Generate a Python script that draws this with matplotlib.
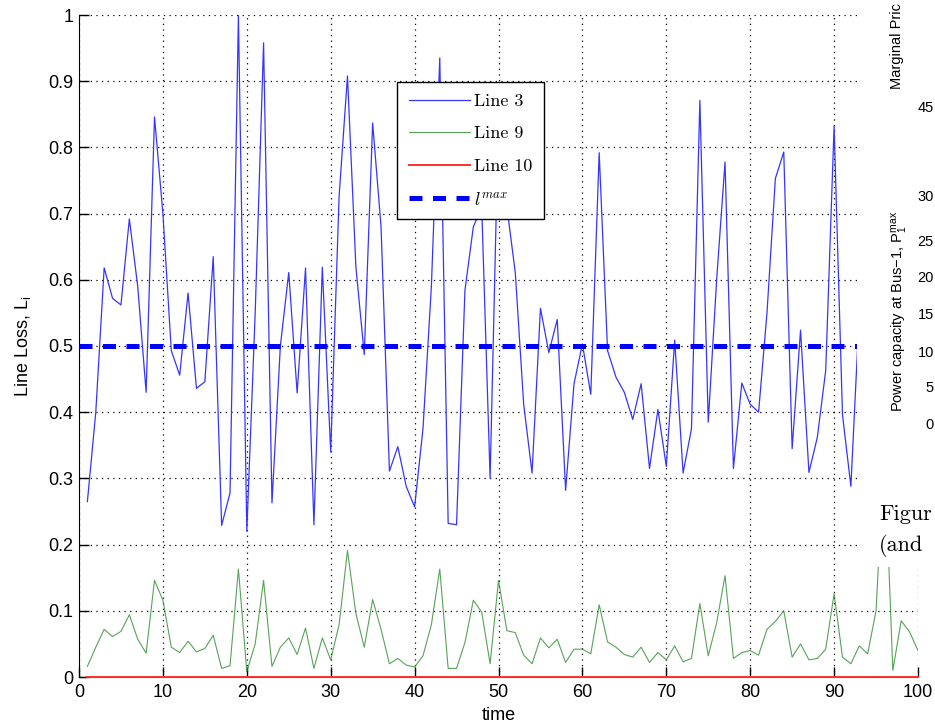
import matplotlib
matplotlib.use('Agg')
import matplotlib.pyplot as plt
import numpy as np
from matplotlib.patches import Rectangle

plt.rcParams['font.family'] = ['Liberation Sans', 'DejaVu Sans']
plt.rcParams['mathtext.fontset'] = 'custom'
plt.rcParams['mathtext.rm'] = 'Liberation Sans'
plt.rcParams['mathtext.it'] = 'cmmi10'

# ---- data ----
time = np.arange(1, 101)

line3 = [0.265, 0.40, 0.618, 0.572, 0.562, 0.692, 0.59, 0.43, 0.846, 0.70,
         0.493, 0.456, 0.58, 0.436, 0.446, 0.635, 0.229, 0.278, 1.0, 0.22,
         0.55, 0.958, 0.263, 0.50, 0.611, 0.429, 0.618, 0.23, 0.619, 0.34,
         0.726, 0.908, 0.62, 0.487, 0.837, 0.68, 0.311, 0.348, 0.288, 0.257,
         0.375, 0.59, 0.935, 0.232, 0.23, 0.584, 0.68, 0.71, 0.30, 0.85,
         0.71, 0.611, 0.412, 0.308, 0.557, 0.49, 0.54, 0.282, 0.443, 0.503,
         0.427, 0.792, 0.493, 0.453, 0.43, 0.389, 0.443, 0.315, 0.404, 0.318,
         0.509, 0.308, 0.375, 0.871, 0.385, 0.60, 0.778, 0.315, 0.444, 0.412,
         0.40, 0.55, 0.753, 0.793, 0.345, 0.524, 0.309, 0.362, 0.463, 0.832,
         0.396, 0.288, 0.55, 0.40, 0.62, 0.35, 0.58, 0.45, 0.70, 0.38]

line9 = [0.016, 0.045, 0.072, 0.061, 0.069, 0.094, 0.057, 0.036, 0.146, 0.116,
         0.045, 0.037, 0.054, 0.038, 0.043, 0.063, 0.013, 0.017, 0.163, 0.008,
         0.05, 0.146, 0.016, 0.045, 0.059, 0.034, 0.074, 0.013, 0.059, 0.026,
         0.079, 0.191, 0.096, 0.045, 0.117, 0.072, 0.02, 0.028, 0.018, 0.015,
         0.032, 0.079, 0.163, 0.013, 0.013, 0.052, 0.116, 0.098, 0.02, 0.146,
         0.07, 0.067, 0.033, 0.02, 0.059, 0.044, 0.057, 0.022, 0.042, 0.042,
         0.035, 0.109, 0.053, 0.045, 0.034, 0.03, 0.045, 0.022, 0.037, 0.026,
         0.047, 0.023, 0.028, 0.111, 0.032, 0.082, 0.153, 0.028, 0.037, 0.04,
         0.033, 0.072, 0.084, 0.10, 0.03, 0.05, 0.026, 0.028, 0.042, 0.126,
         0.03, 0.02, 0.047, 0.035, 0.10, 0.345, 0.01, 0.085, 0.068, 0.04]

line10 = [0.0] * 100
lmax = 0.5

xticks = [0, 10, 20, 30, 40, 50, 60, 70, 80, 90, 100]
yticks = [0, 0.1, 0.2, 0.3, 0.4, 0.5, 0.6, 0.7, 0.8, 0.9, 1]
yticklabels = ['0', '0.1', '0.2', '0.3', '0.4', '0.5', '0.6', '0.7', '0.8', '0.9', '1']

# pieces of the neighbouring figure that overlap the screenshot
side_ticks = ['45', '30', '25', '20', '15', '10', '5', '0']
side_tick_y = [108, 197, 242, 278, 315, 353, 388, 425]

fig = plt.figure(figsize=(9.35, 7.28), dpi=100)
ax = fig.add_axes([79/935, 1 - 677/728, 839/935, 662/728])

h3, = ax.plot(time, line3, color='#3535ff', lw=0.9, label='Line 3')
h9, = ax.plot(time, line9, color='#2e8b2e', lw=0.8, alpha=0.8, label='Line 9')
h10, = ax.plot(time, line10, color='#ff3030', lw=1.4, label='Line 10',
               clip_on=False, zorder=5)
hmax, = ax.plot([0, 100], [lmax, lmax], color='blue', lw=3.6,
                dashes=(2.6, 2.1), label='$l^{max}$', zorder=4)

ax.set_xlim(0, 100)
ax.set_ylim(0, 1)
ax.set_xticks(xticks)
ax.set_yticks(yticks)
ax.set_yticklabels(yticklabels)
ax.tick_params(direction='in', length=7, width=1, labelsize=13, pad=4)
ax.tick_params(axis='x', pad=5)
for s in ['top', 'right']:
    ax.spines[s].set_visible(False)
ax.grid(True, color='black', linestyle=(0, (1, 3.5)), lw=0.9)
ax.set_axisbelow(True)

ax.set_xlabel('time', fontsize=13, labelpad=4)
ax.set_ylabel('Line Loss, L$_\\mathrm{i}$', fontsize=13, labelpad=10)

leg = ax.legend(handles=[h3, h9, h10, hmax], loc='upper left',
                bbox_to_anchor=(0.3795, 0.899), fancybox=False, shadow=False,
                framealpha=1, edgecolor='black', handlelength=3.4,
                labelspacing=0.93, borderpad=0.64, handletextpad=0.2,
                borderaxespad=0, prop={'family': 'cmr10', 'size': 13})
leg.get_frame().set_linewidth(1.0)

# white cover from the next figure, clipped by the screenshot edge
fig.patches.append(Rectangle((857/935, 1 - 567/728), 1, 567/728,
                             transform=fig.transFigure, facecolor='white',
                             edgecolor='none', zorder=10))
fig.text(897/935, 1 - 89/728, 'Marginal Pric', rotation=90, fontsize=10.5,
         ha='center', va='bottom', zorder=11)
for lab, yp in zip(side_ticks, side_tick_y):
    fig.text(934/935, 1 - yp/728, lab, fontsize=10.5, ha='right', va='center',
             zorder=11)
fig.text(899/935, 1 - 311/728, 'Power capacity at Bus\u22121, P$_1^{\\mathrm{max}}$',
         rotation=90, fontsize=10.5, ha='center', va='center', zorder=11)
fig.text(879/935, 1 - 514/728, 'Figur', family='cmr10', fontsize=16,
         ha='left', va='center', zorder=11)
fig.text(879/935, 1 - 546/728, '(and', family='cmr10', fontsize=16,
         ha='left', va='center', zorder=11)

fig.savefig('out.png', dpi=100)
